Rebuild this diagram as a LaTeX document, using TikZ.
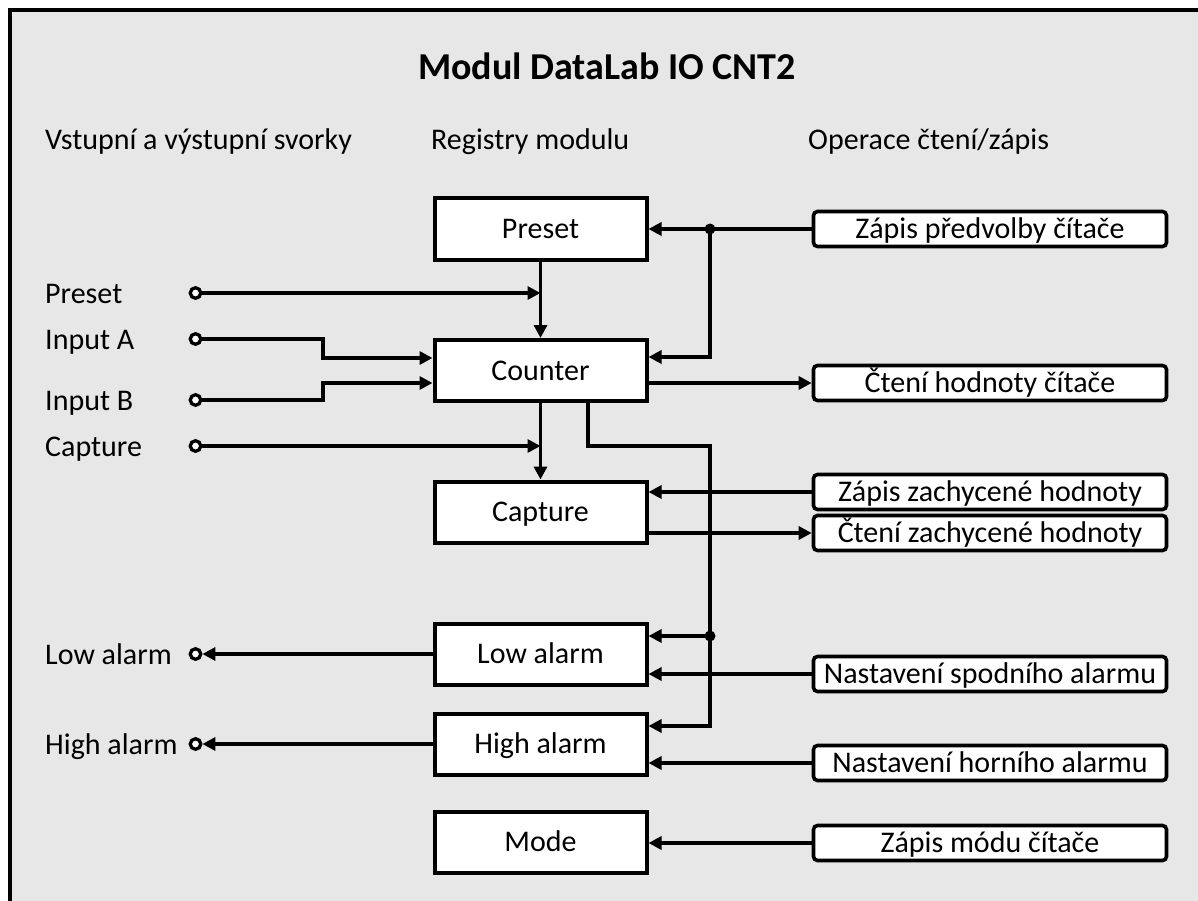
\documentclass[tikz,border=0pt]{standalone}
\usepackage{fontspec}
\setmainfont{Carlito}
\usetikzlibrary{arrows.meta,calc}
\definecolor{bg}{RGB}{231,231,231}
\begin{document}
\begin{tikzpicture}[x=1pt,y=-1pt,
  every node/.style={font=\fontsize{30}{36}\selectfont},
  reg/.style={draw,line width=4pt,fill=white,minimum width=212pt,minimum height=61pt,inner sep=0pt,text height=19.3pt,text depth=0pt},
  op/.style={draw,line width=3.6pt,fill=white,rounded corners=4pt,minimum width=353pt,minimum height=35pt,inner sep=0pt,text height=19.3pt,text depth=0pt},
  term/.style={circle,draw,line width=3.3pt,fill=white,minimum size=10.5pt,inner sep=0pt},
  lbl/.style={anchor=base west,inner sep=0pt},
  conn/.style={line width=3.5pt},
  arr/.style={conn,-{Triangle[length=13pt,width=13pt]}},
  dot/.style={circle,fill=black,minimum size=11pt,inner sep=0pt}
]
\useasboundingbox (0,0) rectangle (1198,901);
\fill[white] (0,0) rectangle (1198,901);
\fill[bg] (9.5,10.5) rectangle (1198,901);
\draw[line width=4pt] (9.5,901) -- (9.5,10.5) -- (1198,10.5);

% title and headers
\node[font=\bfseries\fontsize{38}{44}\selectfont] (title) at (607,66) {Modul DataLab IO CNT2};
\node[lbl] (h1) at (45,150) {Vstupní a výstupní svorky};
\node[lbl] (h2) at (431,150) {Registry modulu};
\node[lbl] (h3) at (808,150) {Operace čtení/zápis};

% registers
\node[reg] (pre) at (540.5,229) {Preset};
\node[reg] (cnt) at (540.5,370.5) {Counter};
\node[reg] (cap) at (540.5,512) {Capture};
\node[reg] (low) at (540.5,654) {Low alarm};
\node[reg] (high) at (540.5,744) {High alarm};
\node[reg] (mode) at (540.5,842) {Mode};

% operations
\node[op] (zp) at (990,229) {Zápis předvolby čítače};
\node[op] (ct) at (990,383) {Čtení hodnoty čítače};
\node[op] (zz) at (990,492) {Zápis zachycené hodnoty};
\node[op] (cz) at (990,533) {Čtení zachycené hodnoty};
\node[op] (ns) at (990,674) {Nastavení spodního alarmu};
\node[op] (nh) at (990,763) {Nastavení horního alarmu};
\node[op] (zm) at (990,843) {Zápis módu čítače};

% terminals
\node[term] (tp) at (195.5,293) {};
\node[term] (ta) at (195.5,339) {};
\node[term] (tb) at (195.5,400) {};
\node[term] (tc) at (195.5,446) {};
\node[term] (tl) at (195.5,654) {};
\node[term] (th) at (195.5,744) {};
\node[lbl] (lp) at (45,303) {Preset};
\node[lbl] (la) at (45,349) {Input A};
\node[lbl] (lb) at (45,410) {Input B};
\node[lbl] (lc) at (45,456) {Capture};
\node[lbl] (ll) at (45,664) {Low alarm};
\node[lbl] (lh) at (45,754) {High alarm};

% inputs
\draw[arr] (tp.east) -- (tp -| pre.south);
\draw[arr] (pre.south) -- (cnt.north);
\draw[arr] (ta.east) -- (323,339) |- ($(cnt.west)+(0,-12.5)$);
\draw[arr] (tb.east) -- (323,400) |- ($(cnt.west)+(0,12.5)$);
\draw[arr] (tc.east) -- (tc -| cnt.south);
\draw[arr] (cnt.south) -- (cap.north);

% outputs
\draw[arr] (low.west) -- (tl.east);
\draw[arr] (high.west) -- (th.east);

% bus from counter to alarms
\coordinate (j1) at (710,229);
\coordinate (j2) at (710,636);
\draw[conn] ($(cnt.south)+(47.5,0)$) |- (710,446) -- (j2);
\draw[arr] (j2) -- (j2 -| low.east);
\draw[arr] (j2) |- ($(high.east)+(0,-18)$);
\node[dot] (d2) at (j2) {};

% operations connectors
\draw[arr] (zp.west) -- (pre.east);
\draw[arr] (j1) |- ($(cnt.east)+(0,-13.5)$);
\node[dot] (d1) at (j1) {};
\draw[arr] (cnt.east |- ct.west) -- (ct.west);
\draw[arr] (zz.west) -- (zz.west -| cap.east);
\draw[arr] (cap.east |- cz.west) -- (cz.west);
\draw[arr] (ns.west) -- (ns.west -| low.east);
\draw[arr] (nh.west) -- (nh.west -| high.east);
\draw[arr] (zm.west) -- (zm.west -| mode.east);
\end{tikzpicture}
\end{document}
